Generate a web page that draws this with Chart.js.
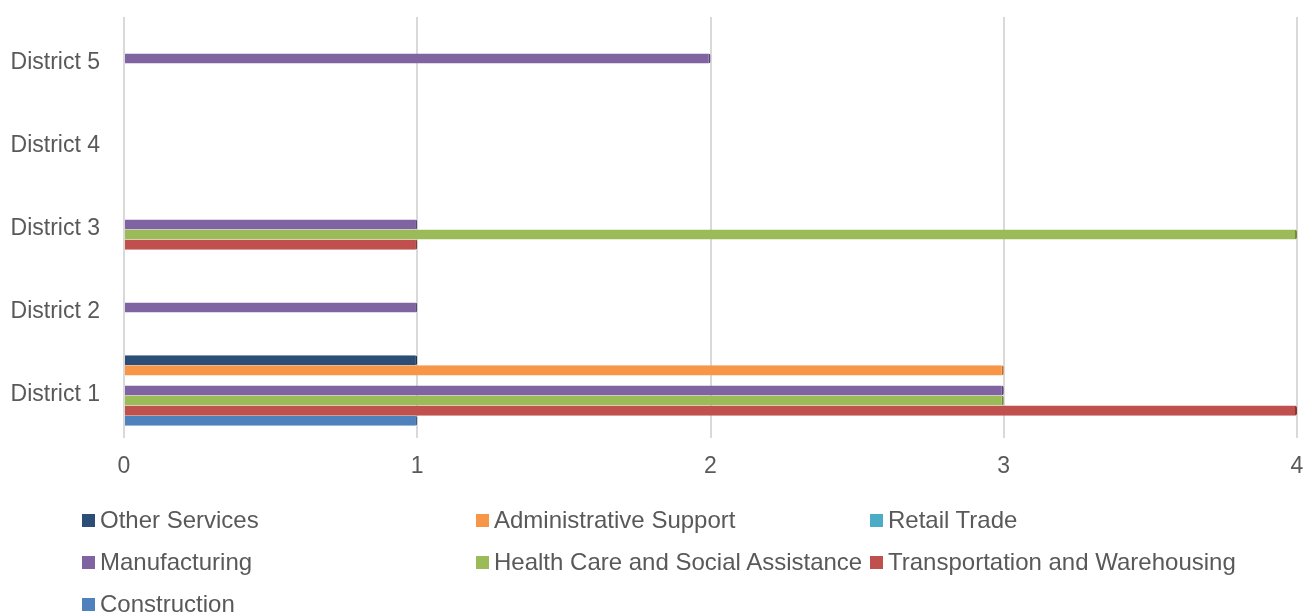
<!DOCTYPE html>
<html>
<head>
<meta charset="utf-8">
<script src="https://cdn.jsdelivr.net/npm/chart.js@4/dist/chart.umd.min.js"></script>
<style>
	body { margin: 0; background: #fff; font-family: "Liberation Sans", Arial, sans-serif; }
	#wrap { position: relative; width: 1308px; height: 616px; overflow: hidden; }
	#legend {
		position: absolute; left: 82px; top: 499px;
		display: grid; grid-template-columns: 394px 394px 394px; grid-auto-rows: 42px;
	}
	.item { display: flex; align-items: center; font-size: 24px; color: #595959; white-space: nowrap; }
	.sw { width: 13px; height: 13px; margin-right: 5px; flex: none; }
</style>
</head>
<body>
<div id="wrap">
	<canvas id="barChart" width="1308" height="500"></canvas>
	<div id="legend"></div>
</div>
<script>
// categories as shown, top to bottom
const categories = ["District 5", "District 4", "District 3", "District 2", "District 1"];
const xTicks = [0, 1, 2, 3, 4];

const otherServices = [0, 0, 0, 0, 1];
const adminSupport = [0, 0, 0, 0, 3];
const retailTrade = [0, 0, 0, 0, 0];
const manufacturing = [2, 0, 1, 1, 3];
const healthCare = [0, 0, 4, 0, 3];
const transportation = [0, 0, 1, 0, 4];
const construction = [0, 0, 0, 0, 1];

const series = [
	{ label: "Other Services", data: otherServices, color: "#2c4d75", edge: "#1c3250" },
	{ label: "Administrative Support", data: adminSupport, color: "#f79646", edge: "#c4702c" },
	{ label: "Retail Trade", data: retailTrade, color: "#4bacc6", edge: "#35879d" },
	{ label: "Manufacturing", data: manufacturing, color: "#8064a2", edge: "#5a4578" },
	{ label: "Health Care and Social Assistance", data: healthCare, color: "#9bbb59", edge: "#728c3c" },
	{ label: "Transportation and Warehousing", data: transportation, color: "#c0504d", edge: "#8c3533" },
	{ label: "Construction", data: construction, color: "#4f81bd", edge: "#365f8f" },
];

const textColor = "#595959";
const fontFamily = '"Liberation Sans", Arial, sans-serif';

new Chart(document.getElementById("barChart").getContext("2d"), {
	type: "bar",
	data: {
		labels: categories,
		datasets: series.map((s) => ({
			label: s.label,
			data: s.data,
			backgroundColor: s.color,
			borderColor: s.edge,
			borderWidth: (ctx) => (ctx.raw ? { right: 2 } : 0),
			borderRadius: (ctx) => (ctx.raw ? 2 : 0),
			borderSkipped: "start",
			barPercentage: 1,
			categoryPercentage: 0.85,
		})),
	},
	options: {
		indexAxis: "y",
		responsive: false,
		animation: false,
		devicePixelRatio: 1,
		layout: { padding: { top: 17, right: 11, left: 0, bottom: 0 } },
		plugins: {
			legend: { display: false },
			tooltip: { enabled: false },
		},
		scales: {
			x: {
				min: 0,
				max: 4,
				afterBuildTicks: (scale) => {
					scale.ticks = xTicks.map((v) => ({ value: v }));
				},
				afterFit: (scale) => {
					scale.height = 68;
					scale.paddingLeft = 0;
					scale.paddingRight = 0;
				},
				grid: { color: "#d9d9d9", lineWidth: 2, tickLength: 6, drawTicks: true },
				border: { display: false },
				ticks: { color: textColor, padding: 15, font: { family: fontFamily, size: 23 } },
			},
			y: {
				afterFit: (scale) => {
					scale.width = 124;
					scale.paddingTop = 0;
					scale.paddingBottom = 0;
				},
				grid: { display: false, drawTicks: false },
				border: { display: false },
				ticks: { color: textColor, padding: 24, labelOffset: 4, font: { family: fontFamily, size: 23 } },
			},
		},
	},
});

// legend in three fixed columns
const legend = document.getElementById("legend");
series.forEach((s) => {
	const item = document.createElement("div");
	item.className = "item";
	item.innerHTML = `<span class="sw" style="background:${s.color}"></span><span>${s.label}</span>`;
	legend.appendChild(item);
});
</script>
</body>
</html>
